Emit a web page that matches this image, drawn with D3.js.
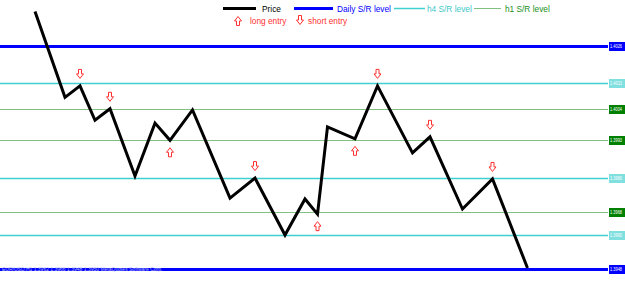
<!DOCTYPE html>
<html>
<head>
<meta charset="utf-8">
<script src="https://cdn.jsdelivr.net/npm/d3@7"></script>
<style>
  html, body { margin: 0; padding: 0; background: #fff; }
  svg { display: block; font-family: "Liberation Sans", Arial, sans-serif; }
</style>
</head>
<body>
<div id="chart"></div>
<script>
// bar index and close price of the swing points
const bars = [14, 26, 32, 38, 44, 54, 62, 68, 77, 92, 102, 114, 122, 127, 131, 142, 151, 165, 172, 185, 197, 211];
const prices = [1.4038, 1.4008, 1.4012, 1.4000, 1.4004, 1.39805, 1.3999, 1.3993, 1.40036, 1.39728, 1.39798,
  1.39599, 1.39725, 1.39672, 1.39977, 1.39935, 1.4012, 1.39886, 1.39942, 1.3969, 1.39795, 1.39484];

// support / resistance levels
const levelPrices = [1.4026, 1.4013, 1.4004, 1.3993, 1.3980, 1.3968, 1.3960, 1.3948];
const levelTypes = ['daily', 'h4', 'h1', 'h1', 'h4', 'h1', 'h4', 'daily'];

// entry signals: point index into bars/prices
const shortEntries = [2, 4, 10, 16, 18, 20];
const longEntries = [7, 13, 15];

const legendItems = [
  { key: 'price', label: 'Price' },
  { key: 'daily', label: 'Daily S/R level' },
  { key: 'h4', label: 'h4 S/R level' },
  { key: 'h1', label: 'h1 S/R level' }
];

const width = 625;
const height = 282;

const styles = {
  price: { color: '#000', width: 3, text: '#000' },
  daily: { color: '#0000ff', width: 3, text: '#0000ff', box: '#0000ff' },
  h4: { color: '#40d0d0', width: 1.5, text: '#40c8c8', box: '#80e0e0' },
  h1: { color: '#80c080', width: 1, text: '#209020', box: '#008000' }
};
const red = '#ff3030';

const x = d3.scaleLinear().domain([0, 250]).range([0, width]);
const y = d3.scaleLinear().domain([1.4042, 1.39435]).range([0, height]);

const svg = d3.select('#chart').append('svg')
  .attr('width', width)
  .attr('height', height);

// levels
const lineEnd = 608;
const lv = svg.append('g').selectAll('g')
  .data(levelPrices.map((p, i) => ({ p, t: levelTypes[i] })))
  .join('g')
  .attr('transform', d => `translate(0,${Math.round(y(d.p)) + 0.5})`);

lv.append('line')
  .attr('x1', 0).attr('x2', lineEnd)
  .attr('stroke', d => styles[d.t].color)
  .attr('stroke-width', d => styles[d.t].width);

lv.append('rect')
  .attr('x', lineEnd + 1).attr('y', -4.5)
  .attr('width', width - lineEnd - 1).attr('height', 9)
  .attr('fill', d => styles[d.t].box);

lv.append('text')
  .attr('x', lineEnd + 2).attr('dy', '0.35em')
  .attr('font-size', 5)
  .attr('textLength', 12)
  .attr('lengthAdjust', 'spacingAndGlyphs')
  .attr('fill', '#fff')
  .text(d => d3.format('.4f')(d.p));

// watermark on the bottom line
svg.append('text')
  .attr('x', 2).attr('y', Math.round(y(levelPrices[7])) + 2)
  .attr('font-size', 5)
  .attr('fill', '#b0b8ff')
  .text('EUR/USD,H1 1.3962 1.3966 1.3948 1.3950 MetaQuotes Software Corp.');

// price path
const line = d3.line()
  .x(d => x(d[0]))
  .y(d => y(d[1]));

svg.append('path')
  .datum(bars.map((b, i) => [b, prices[i]]))
  .attr('fill', 'none')
  .attr('stroke', styles.price.color)
  .attr('stroke-width', styles.price.width)
  .attr('stroke-linejoin', 'miter')
  .attr('d', line);

// arrows, drawn pointing down; flipped for long entries
const arrowPath = 'M-1.5,-4.5 L1.5,-4.5 L1.5,0 L3.5,0 L0,4.5 L-3.5,0 L-1.5,0 Z';

function arrow(g, cx, cy, up) {
  g.append('path')
    .attr('d', arrowPath)
    .attr('transform', `translate(${cx},${cy})${up ? ' rotate(180)' : ''}`)
    .attr('fill', '#fff')
    .attr('stroke', red)
    .attr('stroke-width', 1);
}

const arrows = svg.append('g');
shortEntries.forEach(i => arrow(arrows, x(bars[i]), y(prices[i]) - 12, false));
longEntries.forEach(i => arrow(arrows, x(bars[i]), y(prices[i]) + 12, true));

// legend
const legendX = [223, 294, 394, 474];
const legendLen = [33, 39, 31, 27];
const legendTextX = [262, 337, 427, 505];
const legend = svg.append('g').attr('font-size', 8.3);
legendItems.forEach((d, i) => {
  const s = styles[d.key];
  legend.append('line')
    .attr('x1', legendX[i]).attr('x2', legendX[i] + legendLen[i])
    .attr('y1', 8.5).attr('y2', 8.5)
    .attr('stroke', s.color)
    .attr('stroke-width', s.width);
  legend.append('text')
    .attr('x', legendTextX[i])
    .attr('y', 11.5)
    .attr('fill', s.text)
    .text(d.label);
});

arrow(legend, 238, 21, true);
legend.append('text').attr('x', 250).attr('y', 24).attr('fill', red).text('long entry');
arrow(legend, 300, 20, false);
legend.append('text').attr('x', 308).attr('y', 24).attr('fill', red).text('short entry');
</script>
</body>
</html>
